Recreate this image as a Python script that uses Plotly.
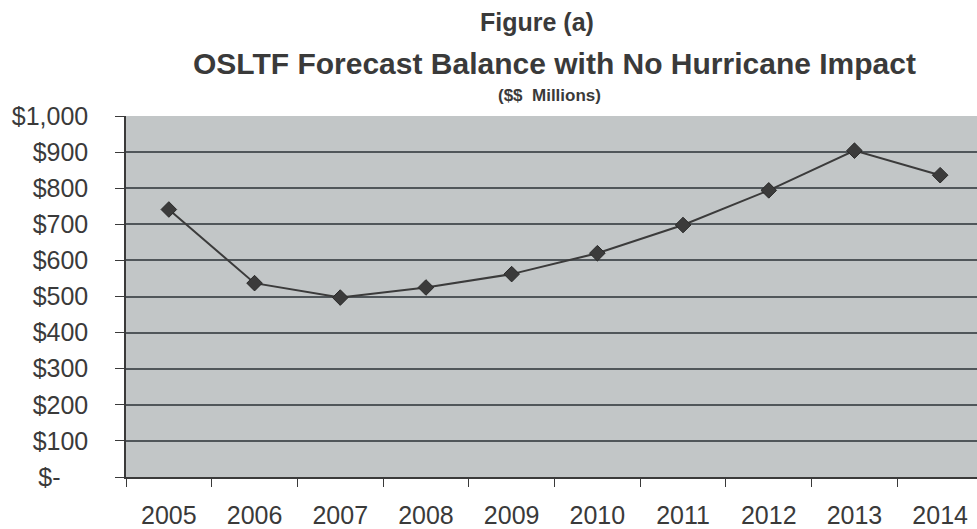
import plotly.graph_objects as go

years = ["2005", "2006", "2007", "2008", "2009", "2010", "2011", "2012", "2013", "2014"]
balance = [741, 537, 497, 525, 562, 620, 698, 794, 904, 836]

y_tick_values = [0, 100, 200, 300, 400, 500, 600, 700, 800, 900, 1000]
y_tick_labels = ["$-\u00a0\u00a0\u00a0\u00a0", "$100", "$200", "$300", "$400", "$500",
                 "$600", "$700", "$800", "$900", "$1,000"]

title_top = "Figure (a)"
title_main = "OSLTF Forecast Balance with No Hurricane Impact"
title_sub = "($$  Millions)"

FONT = "Liberation Sans, Arial, sans-serif"
TXT = "#3a3a3a"

fig = go.Figure()
fig.add_trace(go.Scatter(
    x=years, y=balance, mode="lines+markers",
    line=dict(color="#3b3b3b", width=2),
    marker=dict(symbol="diamond", size=12, color="#3b3b3b",
                line=dict(color="#2a2a2a", width=1)),
    showlegend=False, hoverinfo="x+y",
))

fig.update_layout(
    width=977, height=529,
    margin=dict(l=126, r=0, t=116, b=50),
    paper_bgcolor="white",
    plot_bgcolor="#c2c6c7",
    font=dict(family=FONT, color=TXT),
    annotations=[
        dict(text="<b>%s</b>" % title_top, x=0.483, y=1.261, xref="paper", yref="paper",
             xanchor="center", yanchor="middle", showarrow=False,
             font=dict(size=25, color=TXT, family=FONT)),
        dict(text="<b>%s</b>" % title_main, x=0.503, y=1.146, xref="paper", yref="paper",
             xanchor="center", yanchor="middle", showarrow=False,
             font=dict(size=30, color=TXT, family=FONT)),
        dict(text="<b>%s</b>" % title_sub, x=0.498, y=1.056, xref="paper", yref="paper",
             xanchor="center", yanchor="middle", showarrow=False,
             font=dict(size=17, color=TXT, family=FONT)),
    ],
)

fig.update_xaxes(
    type="category", range=[-0.5, 9.43],
    showline=True, linecolor="#3a3a3a", linewidth=1.5,
    ticks="outside", tickson="boundaries", ticklen=8, tickcolor="#3a3a3a", tickwidth=1.2,
    showgrid=False, ticklabelstandoff=15,
    tickfont=dict(size=25, color=TXT, family=FONT),
)
fig.update_yaxes(
    range=[0, 1000], tickvals=y_tick_values, ticktext=y_tick_labels,
    showline=True, linecolor="#3a3a3a", linewidth=1.5,
    ticks="outside", ticklen=9, tickcolor="#3a3a3a", tickwidth=1.2,
    showgrid=True, gridcolor="#50565a", gridwidth=1.5,
    zeroline=False, ticklabelstandoff=22,
    tickfont=dict(size=25, color=TXT, family=FONT),
)

fig.write_html(
    "out.html",
    config={"displayModeBar": False},
    post_script="document.body.style.margin='0';document.body.style.overflow='hidden';",
)
